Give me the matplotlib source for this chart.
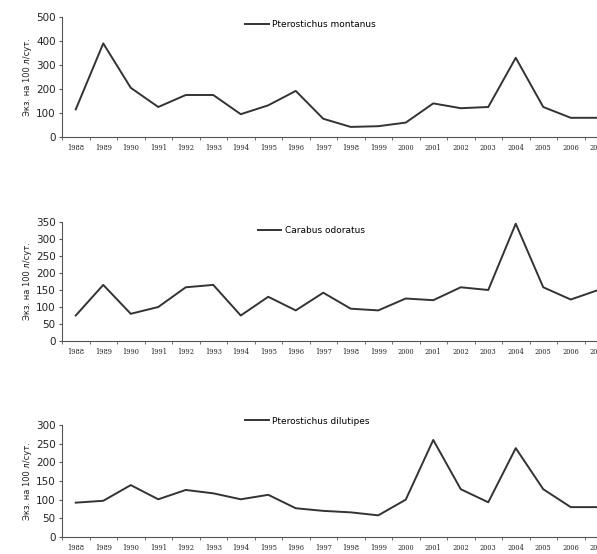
import numpy as np
import matplotlib.pyplot as plt

years = [str(y) for y in range(1988, 2008)]

# values
montanus = [115, 390, 205, 125, 175, 175, 95, 132, 192, 76, 42, 45, 60, 140, 120, 125, 330, 125, 80, 80]
odoratus = [75, 165, 80, 100, 158, 165, 75, 130, 90, 142, 95, 90, 125, 120, 158, 150, 345, 158, 122, 150]
dilutipes = [92, 97, 139, 101, 126, 117, 101, 113, 77, 70, 66, 58, 100, 260, 128, 93, 238, 128, 80, 80]

names = ['Pterostichus montanus', 'Carabus odoratus', 'Pterostichus dilutipes']
series = [montanus, odoratus, dilutipes]
ymax = [500, 350, 300]
ystep = [100, 50, 50]

ylabel = 'Экз. на 100 л/сут.'

W, H = 597, 554
fig = plt.figure(figsize=(W/100, H/100), dpi=100)

# axes boxes in pixels: (top, bottom) of the y range
boxes = [(17, 137), (222, 341), (425, 537)]
legend_pos = [(0.333, 0.94), (0.356, 0.93), (0.333, 1.035)]

x = np.arange(len(years))
for i in range(3):
  top, bot = boxes[i]
  ax = fig.add_axes([62/W, 1-bot/H, 550/W, (bot-top)/H])
  ax.plot(x, series[i], color='#333333', lw=1.4, label=names[i])
  ax.set_xlim(-0.5, len(years)-0.5)
  ax.set_ylim(0, ymax[i])
  ax.set_yticks(np.arange(0, ymax[i]+1, ystep[i]))
  ax.set_xticks(x)
  ax.set_xticklabels(years, fontsize=4.8, family='DejaVu Serif', color='#222222')
  ax.set_xticks(np.arange(-0.5, len(years), 1), minor=True)
  ax.tick_params(axis='x', which='major', length=0, pad=5)
  ax.tick_params(axis='x', which='minor', length=2, color='#555555')
  ax.tick_params(axis='y', length=2.5, labelsize=7.5, labelcolor='#222222', color='#555555', pad=2)
  for s in ['top', 'right']:
    ax.spines[s].set_visible(False)
  for s in ['left', 'bottom']:
    ax.spines[s].set_color('#555555')
    ax.spines[s].set_linewidth(0.8)
  ax.set_ylabel(ylabel, fontsize=6, color='#222222', labelpad=3)
  ax.legend(loc='center left', bbox_to_anchor=legend_pos[i], frameon=False,
            fontsize=6.5, borderpad=0, borderaxespad=0, handlelength=2.6, handletextpad=0.4)

fig.savefig('out.png', dpi=100)
